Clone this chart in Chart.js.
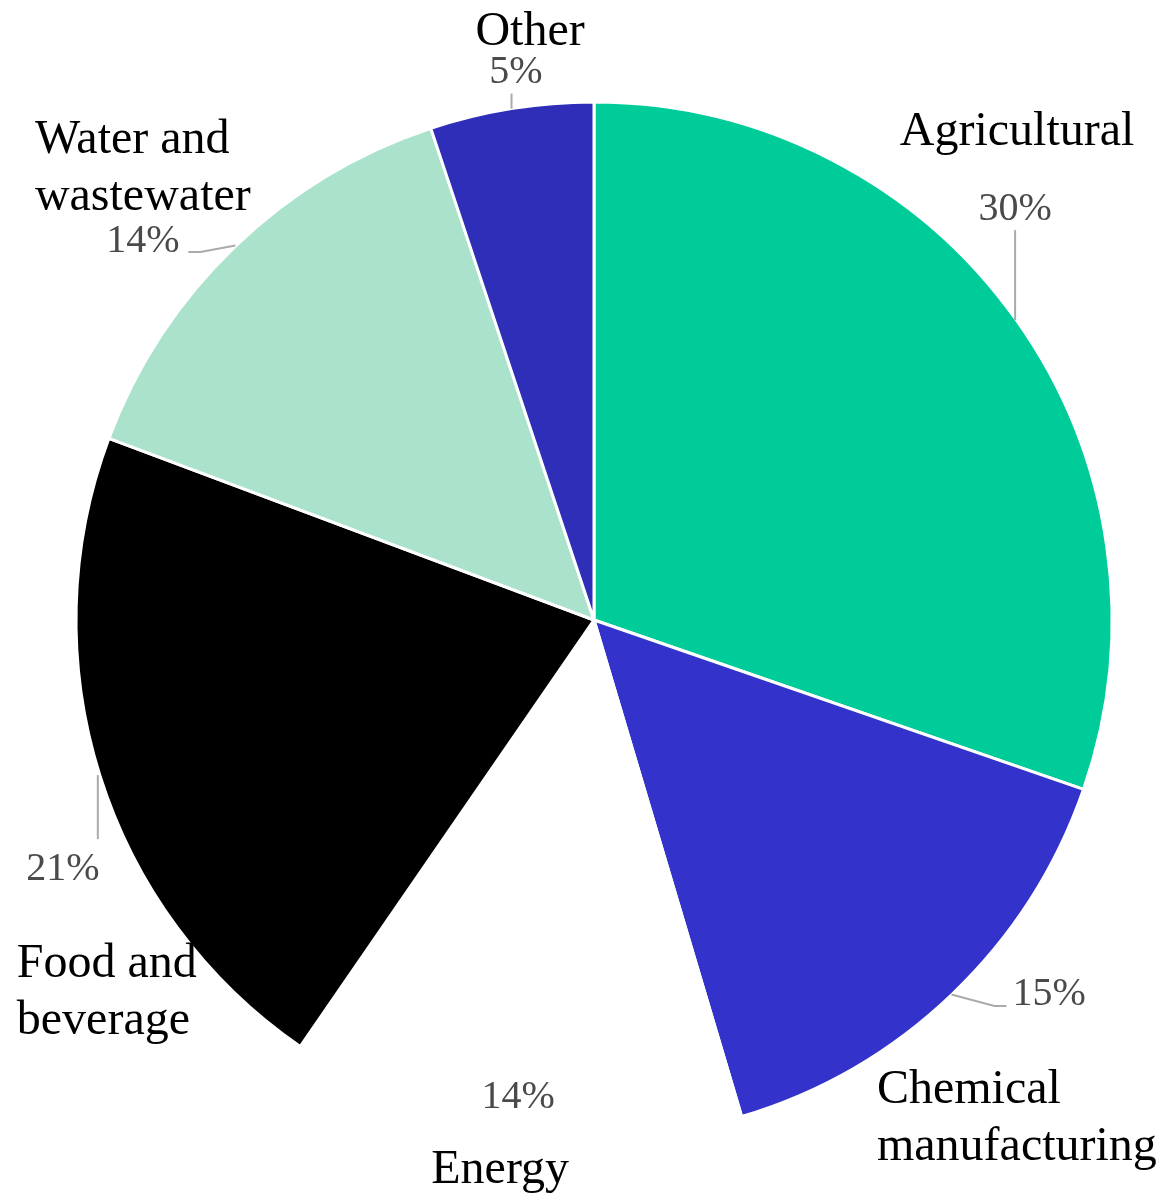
<!DOCTYPE html>
<html>
<head>
<meta charset="utf-8">
<script src="https://cdn.jsdelivr.net/npm/chart.js@4/dist/chart.umd.min.js"></script>
<style>
  html, body { margin: 0; padding: 0; background: #ffffff; }
  #wrap { width: 1176px; height: 1196px; }
</style>
</head>
<body>
<div id="wrap"><canvas id="c" width="1176" height="1196"></canvas></div>
<script>
// ---- data ----
const categories = ["Agricultural", "Chemical manufacturing", "Energy", "Food and beverage", "Water and wastewater", "Other"];
const shares = [30.3, 15.1, 14.2, 21.1, 14.2, 5.1];
const percentLabels = ["30%", "15%", "14%", "21%", "14%", "5%"];
const nameLines = [["Agricultural"], ["Chemical", "manufacturing"], ["Energy"], ["Food and", "beverage"], ["Water and", "wastewater"], ["Other"]];
const sliceColors = ["#00CC99", "#3333CC", "#FFFFFF", "#000000", "#AAE2CC", "#2E2EB8"];

// ---- label layout, offsets relative to the slice's outer-edge midpoint ----
const labelLayout = [
  { line: [[0, 0], [0, -90]], pct: [0, -100, "center"], name: [2, -175, "center"] },
  { line: [[0, 1], [43, 12.5], [55, 12.5]], pct: [61, 11.5, "left"], name: [-74.5, 109.5, "left"] },
  { line: null, pct: [5, -22.6, "center"], name: [-13, 52.4, "center"] },
  { line: [[-3, 0], [-3, 64]], pct: [-38, 105, "center"], name: [-84, 202, "left"] },
  { line: [[0, -2], [-35, 4.5], [-47, 4.5]], pct: [-92.5, 4.5, "center"], name: [-200.5, -94.5, "left"] },
  { line: [[0, -1], [0, -16]], pct: [4.5, -26.6, "center"], name: [18.5, -64.6, "center"] }
];

const serif = "'Liberation Serif', 'Times New Roman', serif";

const outsideLabels = {
  id: "outsideLabels",
  afterDatasetsDraw(chart) {
    const ctx = chart.ctx;
    const meta = chart.getDatasetMeta(0);
    meta.data.forEach((arc, i) => {
      const p = arc.getProps(["x", "y", "startAngle", "endAngle", "outerRadius"], true);
      const mid = (p.startAngle + p.endAngle) / 2;
      const r = 517;
      const ex = p.x + Math.cos(mid) * r;
      const ey = p.y + Math.sin(mid) * r;
      const L = labelLayout[i];
      ctx.save();
      if (L.line) {
        ctx.beginPath();
        L.line.forEach((pt, k) => {
          if (k === 0) ctx.moveTo(ex + pt[0], ey + pt[1]);
          else ctx.lineTo(ex + pt[0], ey + pt[1]);
        });
        ctx.strokeStyle = "#aaaaaa";
        ctx.lineWidth = 2;
        ctx.stroke();
      }
      ctx.textBaseline = "alphabetic";
      ctx.font = "40px " + serif;
      ctx.fillStyle = "#4a4a4a";
      ctx.textAlign = L.pct[2];
      ctx.fillText(percentLabels[i], ex + L.pct[0], ey + L.pct[1]);
      ctx.font = "48px " + serif;
      ctx.fillStyle = "#000000";
      ctx.textAlign = L.name[2];
      nameLines[i].forEach((t, k) => {
        ctx.fillText(t, ex + L.name[0], ey + L.name[1] + k * 57);
      });
      ctx.restore();
    });
  }
};

new Chart(document.getElementById("c"), {
  type: "pie",
  data: {
    labels: categories,
    datasets: [{
      data: shares,
      backgroundColor: sliceColors,
      borderColor: "#ffffff",
      borderWidth: 3,
      hoverBorderWidth: 3,
      hoverOffset: 0
    }]
  },
  options: {
    responsive: false,
    devicePixelRatio: 1,
    animation: false,
    radius: 518,
    layout: { padding: { left: 12, right: 0, top: 44, bottom: 0 } },
    plugins: {
      legend: { display: false },
      tooltip: { enabled: false }
    }
  },
  plugins: [outsideLabels]
});
</script>
</body>
</html>
